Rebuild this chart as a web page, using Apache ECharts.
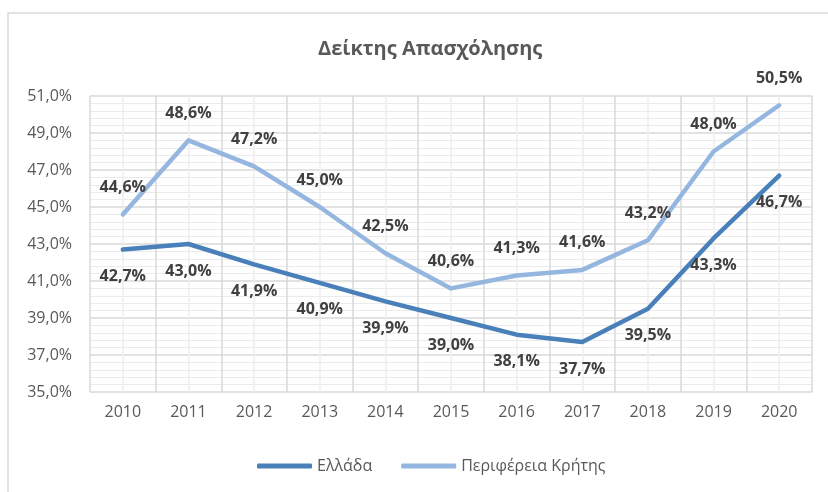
<!DOCTYPE html>
<html>
<head>
<meta charset="utf-8">
<script src="https://cdn.jsdelivr.net/npm/echarts@6/dist/echarts.min.js"></script>
<style>
  body { margin: 0; background: #fff; }
  #main { width: 828px; height: 492px; }
</style>
</head>
<body>
<div id="main"></div>
<script>
// δεδομένα
var years = ['2010', '2011', '2012', '2013', '2014', '2015', '2016', '2017', '2018', '2019', '2020'];
var ellada = [42.7, 43.0, 41.9, 40.9, 39.9, 39.0, 38.1, 37.7, 39.5, 43.3, 46.7];
var kriti = [44.6, 48.6, 47.2, 45.0, 42.5, 40.6, 41.3, 41.6, 43.2, 48.0, 50.5];
var seriesNames = ['Ελλάδα', 'Περιφέρεια Κρήτης'];

function pct(v) {
  return v.toFixed(1).replace('.', ',') + '%';
}

var chart = echarts.init(document.getElementById('main'));
var font = '"Open Sans", "DejaVu Sans", sans-serif';

chart.setOption({
  animation: false,
  graphic: [{
    type: 'rect',
    shape: { x: 8, y: 13, width: 840, height: 500 },
    style: { fill: 'none', stroke: '#d9d9d9', lineWidth: 1.5 },
    silent: true
  }],
  title: {
    text: 'Δείκτης Απασχόλησης',
    left: 313,
    top: 34,
    textStyle: { fontFamily: font, fontSize: 20, fontWeight: 'bold', color: '#595959' }
  },
  legend: {
    data: seriesNames,
    left: 252,
    top: 453,
    icon: 'roundRect',
    itemWidth: 55,
    itemHeight: 5,
    itemGap: 29,
    textStyle: { fontFamily: font, fontSize: 16, color: '#595959' }
  },
  grid: { left: 90, right: 16, top: 96, bottom: 100 },
  xAxis: [{
    type: 'category',
    data: years,
    boundaryGap: true,
    axisLine: { show: false },
    axisTick: { show: false },
    axisLabel: { fontFamily: font, fontSize: 16, color: '#595959', margin: 12 },
    splitLine: { show: false }
  }, {
    // value axis only for the vertical grid lines (boundaries + centers)
    type: 'value',
    min: 0,
    max: 22,
    interval: 1,
    axisLine: { show: false },
    axisTick: { show: false },
    axisLabel: { show: false },
    splitLine: { show: true, lineStyle: { color: ['#d9d9d9', '#eeeeee'], width: 1.5 } }
  }],
  yAxis: {
    type: 'value',
    min: 35,
    max: 51,
    interval: 2,
    axisLine: { show: false },
    axisTick: { show: false },
    axisLabel: {
      fontFamily: font, fontSize: 16, color: '#595959', margin: 18,
      formatter: function (v) { return pct(v); }
    },
    splitLine: { lineStyle: { color: '#d9d9d9', width: 1.5 } },
    minorTick: { show: false, splitNumber: 5 },
    minorSplitLine: { show: true, lineStyle: { color: '#ebebeb', width: 1 } }
  },
  series: [{
    name: seriesNames[0],
    type: 'line',
    data: ellada,
    symbol: 'circle',
    symbolSize: 0.1,
    showAllSymbol: true,
    z: 3,
    lineStyle: { color: '#4a80b9', width: 4.5, cap: 'round', join: 'round' },
    itemStyle: { color: '#4a80b9' },
    label: {
      show: true,
      position: 'bottom',
      distance: 19,
      fontFamily: font, fontSize: 16, fontWeight: 'bold', color: '#404040',
      formatter: function (p) { return pct(p.value); }
    }
  }, {
    name: seriesNames[1],
    type: 'line',
    data: kriti,
    symbol: 'circle',
    symbolSize: 0.1,
    showAllSymbol: true,
    z: 2,
    lineStyle: { color: '#95b7df', width: 4.5, cap: 'round', join: 'round' },
    itemStyle: { color: '#95b7df' },
    label: {
      show: true,
      position: 'top',
      distance: 19,
      fontFamily: font, fontSize: 16, fontWeight: 'bold', color: '#404040',
      formatter: function (p) { return pct(p.value); }
    }
  }]
});
</script>
</body>
</html>
